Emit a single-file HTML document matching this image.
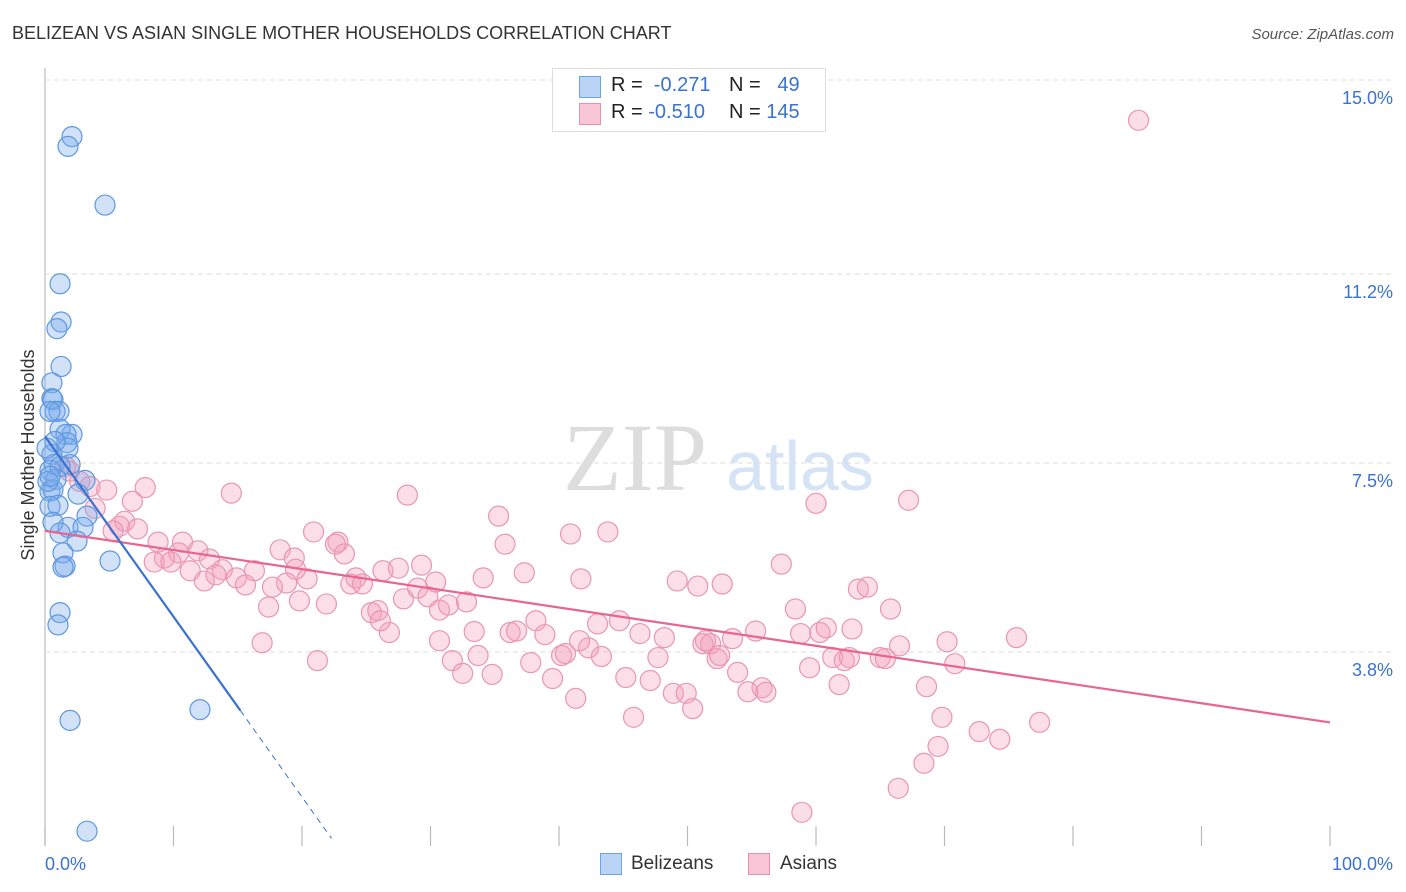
<!DOCTYPE html>
<html><head><meta charset="utf-8"><style>
body{margin:0;background:#fff;font-family:"Liberation Sans",sans-serif;}
#wrap{position:relative;width:1406px;height:892px;overflow:hidden;}
</style></head><body>
<div id="wrap">
<svg id="svg" width="1406" height="892" style="position:absolute;left:0;top:0">
<text x="12" y="39" font-size="18" fill="#333">BELIZEAN VS ASIAN SINGLE MOTHER HOUSEHOLDS CORRELATION CHART</text>
<text x="1394" y="39" font-size="15" fill="#555" text-anchor="end" font-style="italic">Source: ZipAtlas.com</text>
<text x="635" y="490" font-size="96" fill="#ddd" text-anchor="middle" font-family="Liberation Serif">ZIP</text>
<text x="800" y="490" font-size="70" fill="#d4e3f5" text-anchor="middle">atlas</text>
<text transform="translate(34,455) rotate(-90)" font-size="18" fill="#333" text-anchor="middle">Single Mother Households</text>
<g id="grid"></g><g id="marks"></g><g id="lines"></g>
</svg>
<div style="position:absolute;left:552px;top:68px;width:272px;height:62px;border:1px solid #ddd;background:#fff;font-size:20px;color:#222">
 <div style="position:absolute;left:26px;top:7px;width:20px;height:20px;background:#b9d4f5;border:1px solid #6fa3e3"></div>
 <div style="position:absolute;left:58px;top:5px">R = &nbsp;<span style="color:#3a72d0">-0.271</span></div>
 <div style="position:absolute;left:176px;top:5px">N = &nbsp;&nbsp;<span style="color:#3a72d0">49</span></div>
 <div style="position:absolute;left:26px;top:34px;width:20px;height:20px;background:#f8c6d6;border:1px solid #e990ad"></div>
 <div style="position:absolute;left:58px;top:32px">R = <span style="color:#3a72d0">-0.510</span></div>
 <div style="position:absolute;left:176px;top:32px">N = <span style="color:#3a72d0">145</span></div>
</div>
<div style="position:absolute;left:600px;top:853px;width:20px;height:20px;background:#b9d4f5;border:1px solid #6fa3e3"></div>
<div style="position:absolute;left:631px;top:853px;font-size:19px;color:#333">Belizeans</div>
<div style="position:absolute;left:748px;top:853px;width:20px;height:20px;background:#f8c6d6;border:1px solid #e990ad"></div>
<div style="position:absolute;left:780px;top:853px;font-size:19px;color:#333">Asians</div>
</div>
<script>
const yTicks=[15.0,11.2,7.5,3.8];
const yTickLabels=["15.0%","11.2%","7.5%","3.8%"];
const xTicks=[0,10,20,30,40,50,60,70,80,90,100];
const blueX=[2.1,1.79,4.67,1.17,1.25,0.93,1.25,0.54,0.54,0.62,0.78,1.09,0.39,2.1,1.17,1.63,1.71,1.79,0.54,0.7,0.39,1.95,1.17,3.11,0.86,0.39,0.62,2.57,0.39,1.01,3.27,1.79,2.96,0.62,1.17,2.49,1.4,1.56,1.4,5.06,1.17,1.01,1.95,12.06,3.27,0.23,0.39,0.78,0.16];
const blueY=[13.89,13.70,12.55,11.01,10.26,10.13,9.39,9.07,8.76,8.74,8.51,8.51,8.51,8.06,8.16,8.06,7.90,7.79,7.67,7.47,7.36,7.47,7.43,7.16,7.18,6.95,6.97,6.89,6.65,6.67,6.46,6.24,6.24,6.34,6.13,5.97,5.74,5.48,5.46,5.58,4.57,4.33,2.46,2.67,0.29,7.14,7.24,7.92,7.79];
const pinkX=[85.1,1.6,1.9,2.7,3.5,4.8,7.8,14.5,28.2,67.2,60.0,35.3,6.8,3.9,5.8,6.2,7.2,5.3,8.8,10.7,10.4,9.3,8.5,9.8,11.9,12.8,13.8,11.3,12.4,13.3,14.9,15.6,16.3,18.3,19.4,19.5,20.9,22.8,23.3,22.6,20.4,18.8,17.7,17.4,16.9,21.2,21.9,23.8,24.2,24.7,25.4,25.9,26.3,26.8,27.5,27.9,29.0,29.3,29.8,30.4,30.7,31.4,32.8,33.4,34.1,35.8,37.3,40.9,41.7,43.8,31.7,32.5,33.7,34.8,36.2,36.7,38.2,38.9,37.8,39.5,40.2,40.5,41.3,42.3,43.3,43.0,44.7,45.2,46.3,47.1,47.7,48.2,45.8,48.9,49.9,50.4,49.2,50.8,52.7,51.2,51.8,52.3,53.5,53.9,54.7,55.3,55.8,56.1,57.3,58.4,58.8,59.5,60.3,60.8,61.3,61.8,62.2,62.8,63.3,64.0,65.0,65.4,65.8,66.5,68.6,69.8,70.2,70.8,69.5,68.4,66.4,72.7,74.3,75.6,77.4,58.9,62.6,52.5,41.6,30.7,26.1,19.8,51.4];
const pinkY=[14.21,7.43,7.34,7.14,7.04,6.97,7.02,6.91,6.87,6.77,6.71,6.46,6.75,6.61,6.26,6.36,6.21,6.17,5.95,5.95,5.74,5.64,5.56,5.56,5.78,5.62,5.41,5.39,5.19,5.31,5.25,5.11,5.39,5.80,5.64,5.42,6.15,5.95,5.72,5.91,5.23,5.15,5.07,4.68,3.98,3.63,4.74,5.13,5.25,5.13,4.57,4.61,5.39,4.18,5.44,4.84,5.05,5.50,4.88,5.17,4.62,4.72,4.78,4.20,5.25,5.91,5.35,6.11,5.23,6.15,3.63,3.38,3.73,3.36,4.18,4.21,4.41,4.14,3.59,3.28,3.73,3.77,2.89,3.88,3.71,4.35,4.41,3.30,4.16,3.24,3.69,4.08,2.52,2.99,2.99,2.69,5.19,5.09,5.13,3.96,3.96,3.67,4.06,3.40,3.02,4.21,3.10,3.01,5.52,4.64,4.16,3.49,4.18,4.27,3.69,3.16,3.63,4.25,5.03,5.07,3.69,3.67,4.64,3.92,3.12,2.52,4.00,3.57,1.95,1.62,1.13,2.24,2.09,4.08,2.42,0.66,3.69,3.73,4.02,4.02,4.41,4.80,4.02];
const pinkFit=[6.17,-0.0375];
const blueFit=[8.02,-0.353];
const blueSolidEnd=15.2, blueDashEnd=22.3;

const NS="http://www.w3.org/2000/svg";
const X=v=>45+v*12.85;
const Y=v=>846-v*51.07;
function mk(tag,attrs,parent){const e=document.createElementNS(NS,tag);for(const k in attrs)e.setAttribute(k,attrs[k]);parent.appendChild(e);return e;}
const grid=document.getElementById('grid'),marks=document.getElementById('marks'),lines=document.getElementById('lines');
let ax=mk('line',{x1:45,y1:68,x2:45,y2:846,stroke:'#bbb','stroke-width':1.2},grid);


yTicks.forEach((t,i)=>{
 const g=mk('line',{x1:45,x2:1395,y1:Y(t),y2:Y(t),stroke:'#ddd','stroke-dasharray':'5,4'},grid);
 
 
 const tx=mk('text',{x:1393,y:Y(t)+24,'font-size':18,fill:'#3a72d0','text-anchor':'end'},grid);
 tx.textContent=yTickLabels[i];
 
 
});
xTicks.forEach(t=>{
 const l=mk('line',{x1:X(t),x2:X(t),y1:826,y2:846,stroke:'#bbb','stroke-width':1.2},grid);
 
 
});
const xl0=mk('text',{x:45,y:870,'font-size':18,fill:'#3a72d0'},grid);xl0.textContent='0.0%';


const xl1=mk('text',{x:1393,y:870,'font-size':18,fill:'#3a72d0','text-anchor':'end'},grid);xl1.textContent='100.0%';


pinkX.forEach((v,i)=>{
 const c=mk('circle',{cx:X(v),cy:Y(pinkY[i]),r:10,fill:'rgba(244,160,188,0.35)',stroke:'#ea95b2','stroke-width':1.2},marks);
 
 
});
blueX.forEach((v,i)=>{
 const c=mk('circle',{cx:X(v),cy:Y(blueY[i]),r:10,fill:'rgba(120,170,235,0.35)',stroke:'#5d98e0','stroke-width':1.2},marks);
 
 
});
const pl=mk('line',{x1:X(0),y1:Y(pinkFit[0]),x2:X(100),y2:Y(pinkFit[0]+pinkFit[1]*100),stroke:'#e8658f','stroke-width':2.2},lines);


const bl=mk('line',{x1:X(0),y1:Y(blueFit[0]),x2:X(blueSolidEnd),y2:Y(blueFit[0]+blueFit[1]*blueSolidEnd),stroke:'#3a72d0','stroke-width':2.2},lines);


const bd=mk('line',{x1:X(blueSolidEnd),y1:Y(blueFit[0]+blueFit[1]*blueSolidEnd),x2:X(blueDashEnd),y2:Y(blueFit[0]+blueFit[1]*blueDashEnd),stroke:'#3a72d0','stroke-width':1,'stroke-dasharray':'6,5'},lines);


</script>
</body></html>
